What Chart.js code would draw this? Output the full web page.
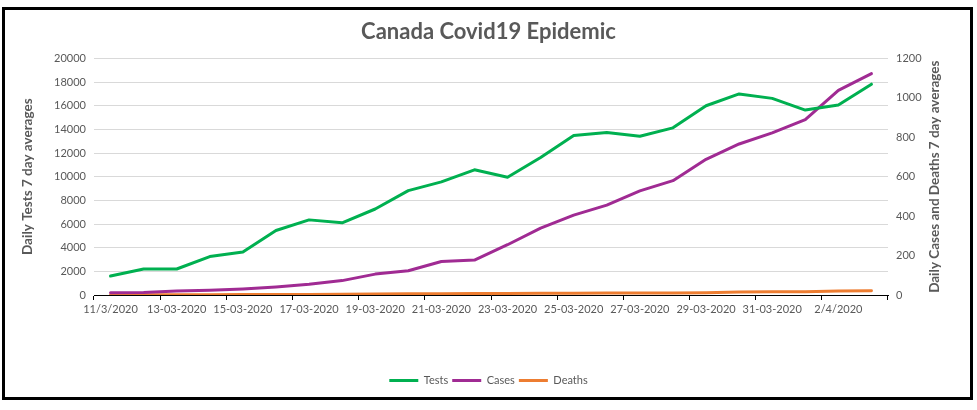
<!DOCTYPE html>
<html>
<head>
<meta charset="utf-8">
<script src="https://cdn.jsdelivr.net/npm/chart.js@4.4.1/dist/chart.umd.min.js"></script>
<style>
  html, body { margin: 0; padding: 0; background: #fff; }
  #wrap { position: relative; width: 977px; height: 410px; }
  #frame { position: absolute; left: 2px; top: 7px; width: 971px; height: 393px;
           border: 3px solid #000; box-sizing: border-box; pointer-events: none; }
</style>
</head>
<body>
<div id="wrap">
  <canvas id="chart" width="977" height="410"></canvas>
  <div id="frame"></div>
</div>
<script>
// dates as printed on the axis (Excel mixed formats)
const dates = [
  '11/3/2020', '12-03-2020', '13-03-2020', '14-03-2020', '15-03-2020', '16-03-2020',
  '17-03-2020', '18-03-2020', '19-03-2020', '20-03-2020', '21-03-2020', '22-03-2020',
  '23-03-2020', '24-03-2020', '25-03-2020', '26-03-2020', '27-03-2020', '28-03-2020',
  '29-03-2020', '30-03-2020', '31-03-2020', '1/4/2020', '2/4/2020', '3/4/2020'
];

// 7 day averages
const tests = [
  1600, 2200, 2200, 3250, 3630, 5450, 6350, 6100, 7270, 8820, 9560, 10580,
  9960, 11630, 13480, 13730, 13420, 14130, 16000, 17000, 16620, 15630, 16060, 17820
];
const cases = [
  12, 13, 20, 24, 31, 41, 54, 73, 106, 123, 170, 177,
  255, 339, 405, 456, 528, 580, 688, 766, 822, 889, 1038, 1123
];
const deaths = [
  1, 1, 1, 1, 2, 3, 3, 4, 5, 6, 6, 7,
  8, 9, 9, 10, 10, 10, 11, 15, 16, 16, 20, 21
];

const testsAxis = { min: 0, max: 20000, step: 2000 };
const casesAxis = { min: 0, max: 1200, step: 200 };
const rightTitle = 'Daily Cases and Deaths 7 day averages';

const grey = '#595959';
const font = 'Lato, "Open Sans", sans-serif';

// Chart.js turns a right axis title the other way, so draw it bottom-to-top here
const rightTitlePlugin = {
  id: 'rightTitle',
  afterDraw(chart) {
    const { ctx, chartArea } = chart;
    ctx.save();
    ctx.translate(935, (chartArea.top + chartArea.bottom) / 2);
    ctx.rotate(-Math.PI / 2);
    ctx.font = 'bold 13.5px ' + font;
    ctx.fillStyle = grey;
    ctx.textAlign = 'center';
    ctx.textBaseline = 'middle';
    ctx.fillText(rightTitle, 0, 0);
    ctx.restore();
  }
};

const ctx = document.getElementById('chart').getContext('2d');

new Chart(ctx, {
  type: 'line',
  data: {
    labels: dates,
    datasets: [
      { label: 'Tests', data: tests, yAxisID: 'y',
        borderColor: '#00B050', backgroundColor: '#00B050' },
      { label: 'Cases', data: cases, yAxisID: 'y1',
        borderColor: '#A02B93', backgroundColor: '#A02B93' },
      { label: 'Deaths', data: deaths, yAxisID: 'y1',
        borderColor: '#ED7D31', backgroundColor: '#ED7D31' }
    ]
  },
  options: {
    responsive: false,
    animation: false,
    devicePixelRatio: 1,
    layout: { padding: { left: 0, right: 0, top: 0, bottom: 14 } },
    elements: {
      line: { borderWidth: 3, tension: 0, borderCapStyle: 'round', borderJoinStyle: 'round' },
      point: { radius: 0 }
    },
    scales: {
      x: {
        offset: true,
        grid: {
          offset: true,
          drawOnChartArea: false,
          tickLength: 5,
          color: (c) => (c.index === undefined || c.index % 2 === 0) ? '#000' : 'rgba(0,0,0,0)'
        },
        border: { color: '#000', width: 1 },
        ticks: {
          autoSkip: false,
          maxRotation: 0,
          padding: 3,
          color: grey,
          font: { family: font, size: 11 },
          callback: function (v, i) { return i % 2 === 0 ? this.getLabelForValue(v) : ''; }
        },
        afterFit: (s) => { s.height = 76; }
      },
      y: {
        position: 'left',
        min: testsAxis.min, max: testsAxis.max,
        grid: { color: '#D9D9D9', drawTicks: false },
        border: { display: false },
        ticks: { stepSize: testsAxis.step, padding: 8, color: grey,
                 font: { family: font, size: 11 }, callback: (v) => String(v) },
        title: {
          display: true, text: 'Daily Tests 7 day averages', color: grey,
          font: { family: font, size: 13.5, weight: 'bold' },
          padding: { top: 20, bottom: 0 }
        },
        afterFit: (s) => { s.width = 94; }
      },
      y1: {
        position: 'right',
        min: casesAxis.min, max: casesAxis.max,
        grid: { drawOnChartArea: false, drawTicks: false },
        border: { display: false },
        ticks: { stepSize: casesAxis.step, padding: 8, color: grey,
                 font: { family: font, size: 11 }, callback: (v) => String(v) },
        afterFit: (s) => { s.width = 89; }
      }
    },
    plugins: {
      title: {
        display: true,
        text: 'Canada Covid19 Epidemic',
        color: grey,
        font: { family: font, size: 22, weight: 'bold' },
        padding: { top: 19, bottom: 13 }
      },
      legend: {
        position: 'bottom',
        labels: {
          boxWidth: 29, boxHeight: 3, padding: 4,
          color: grey,
          font: { family: font, size: 11 },
          generateLabels: (chart) => Chart.defaults.plugins.legend.labels.generateLabels(chart)
            .map((item) => Object.assign(item, { lineWidth: 0 }))
        }
      },
      tooltip: { enabled: false }
    }
  },
  plugins: [rightTitlePlugin]
});
</script>
</body>
</html>
